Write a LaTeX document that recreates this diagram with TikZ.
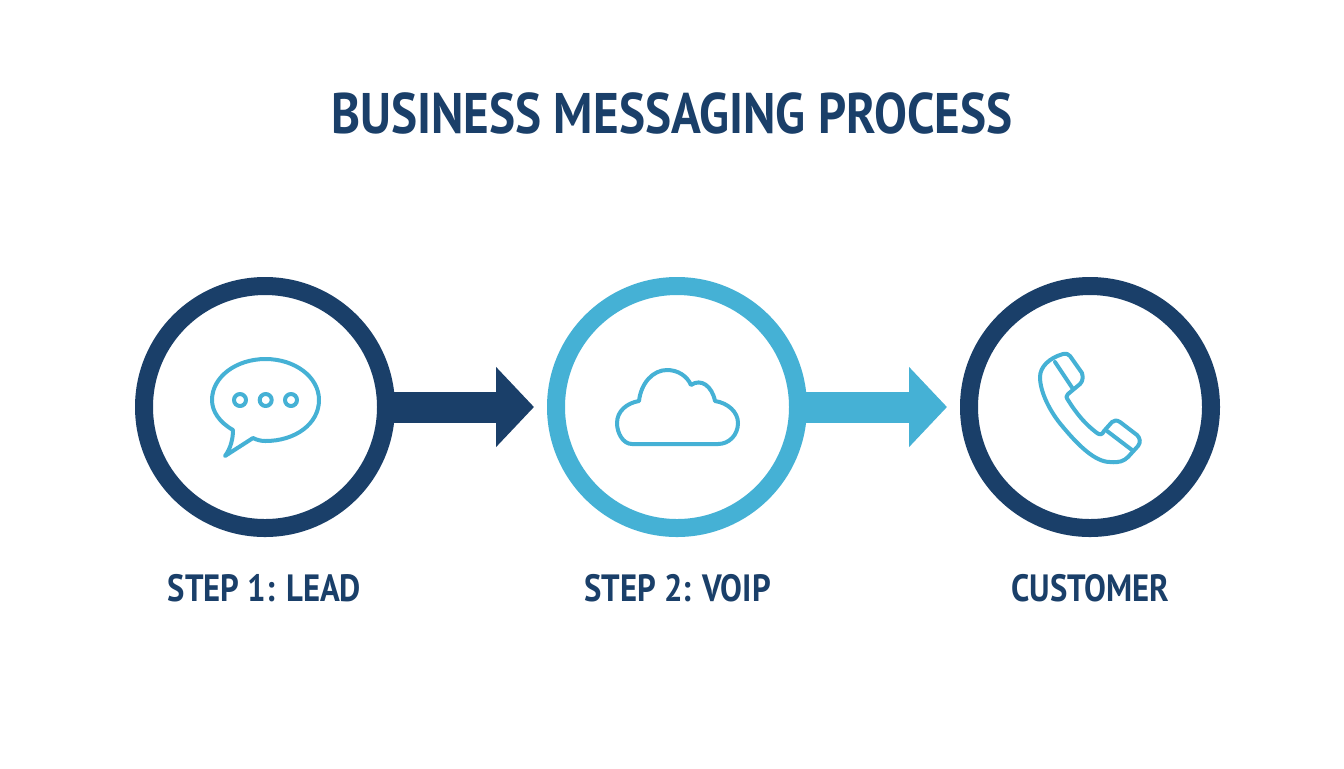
\documentclass[tikz,border=0pt]{standalone}
\usepackage{fontspec}
\setmainfont[FakeStretch=0.86]{PT Sans}
\usepackage{xcolor}
\usetikzlibrary{arrows.meta}
\definecolor{navy}{HTML}{1A3F69}
\definecolor{sky}{HTML}{45B1D5}

\begin{document}
\begin{tikzpicture}[x=0.5pt, y=-0.5pt,
        ring/.style={circle, draw=#1, line width=9pt, fill=white, minimum size=121pt, inner sep=0pt, outer sep=0pt},
        flow/.style={draw=#1, line width=15.5pt, shorten >=11pt, -{Triangle[length=19pt, width=39pt, #1]}},
        caption/.style={navy, font=\bfseries\fontsize{19pt}{23pt}\selectfont},
        icon/.style={sky, line width=2pt, line join=round, line cap=round}]
        \useasboundingbox [fill=white] (0, 0) rectangle (1344, 768);
        \node [navy, font=\bfseries\fontsize{28.6pt}{34pt}\selectfont] (title) at (672, 113) {BUSINESS MESSAGING PROCESS};
        \node [ring=navy] (lead) at (265, 407) {};
        \node [ring=sky] (voip) at (677, 407) {};
        \node [ring=navy] (customer) at (1090, 407) {};
        \draw [flow=navy] (lead) -- (voip);
        \draw [flow=sky] (voip) -- (customer);
        \node [caption] (leadlabel) at (264.5, 588) {STEP 1: LEAD};
        \node [caption] (voiplabel) at (677.5, 588) {STEP 2: VOIP};
        \node [caption] (customerlabel) at (1090.5, 588) {CUSTOMER};
        \draw [icon] (233, 430) .. controls (219, 422) and (212, 411) .. (212, 400)
            .. controls (212, 377) and (236, 359) .. (265.5, 359)
            .. controls (295, 359) and (319, 377) .. (319, 400)
            .. controls (319, 424) and (295, 441) .. (265.5, 441)
            .. controls (261, 441) and (257, 440) .. (253, 438)
            -- (225, 456) .. controls (231, 448) and (233, 438) .. (233, 430) -- cycle;
        \draw [icon] (240, 400) circle (6);
        \draw [icon] (265.7, 400) circle (6);
        \draw [icon] (291, 400) circle (6);
        \draw [icon] (632, 444) .. controls (623, 444) and (617, 433) .. (617, 423)
            .. controls (617, 411) and (627, 403) .. (639, 401)
            .. controls (641, 383) and (653, 370) .. (667, 370)
            .. controls (678, 370) and (687, 376) .. (691, 385)
            .. controls (701, 378) and (712, 386) .. (715, 401)
            .. controls (728, 403) and (738, 412) .. (738, 423)
            .. controls (738, 435) and (729, 444) .. (718, 444) -- cycle;
        \draw [icon] (1063, 354) .. controls (1049, 358) and (1040, 367) .. (1040, 377)
            .. controls (1040, 392) and (1050, 412) .. (1063, 427)
            .. controls (1078, 445) and (1095, 462) .. (1110, 462)
            .. controls (1119, 463) and (1124, 461) .. (1128, 457)
            -- (1138, 446) .. controls (1141, 442) and (1140, 438) .. (1137, 435)
            -- (1120, 422) .. controls (1117, 420) and (1114, 420) .. (1112, 422)
            -- (1104, 431) .. controls (1102, 435) and (1100, 435) .. (1097, 433)
            .. controls (1085, 424) and (1076, 413) .. (1068, 400)
            .. controls (1066, 397) and (1066, 396) .. (1068, 394)
            -- (1080, 384) .. controls (1083, 381) and (1083, 377) .. (1082, 373)
            -- (1070, 356) .. controls (1068, 354) and (1066, 353) .. (1063, 354) -- cycle;
        \draw [icon] (1055, 362) -- (1073, 389);
        \draw [icon] (1107, 431) -- (1132, 450);
    \end{tikzpicture}
\end{document}
